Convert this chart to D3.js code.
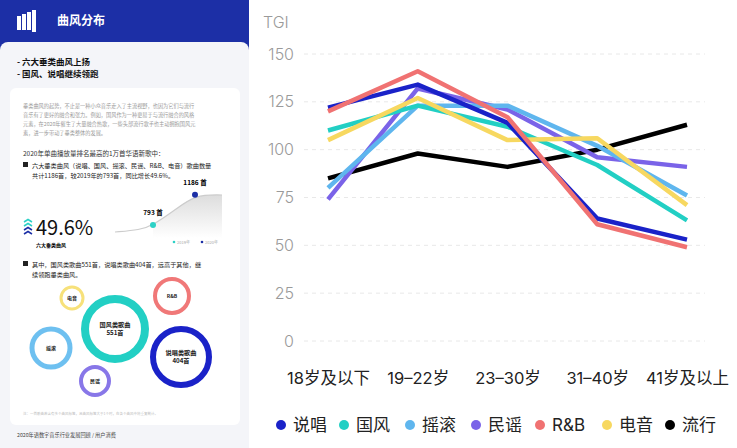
<!DOCTYPE html>
<html><head><meta charset="utf-8">
<script src="https://cdn.jsdelivr.net/npm/d3@7"></script>
<style>body{margin:0;background:#fff;font-family:"Noto Sans CJK SC","Noto Sans",sans-serif}</style>
</head><body>
<script>
const ages = ['18岁及以下', '19–22岁', '23–30岁', '31–40岁', '41岁及以上'];
const genres = ['说唱', '国风', '摇滚', '民谣', 'R&B', '电音', '流行'];
const colors = ['#1a22c8', '#22cfc4', '#5fb6ee', '#7a63e8', '#f07272', '#f7d860', '#000000'];
const rap = [122, 134, 114, 64, 53];
const guofeng = [110, 123, 112, 92, 63];
const rock = [80, 123, 123, 102, 76];
const folk = [74, 132, 121, 96, 91];
const rnb = [120, 141, 117, 61, 49];
const edm = [105, 127, 105, 106, 71];
const pop = [85, 98, 91, 100, 113];
const seriesValues = [rap, guofeng, rock, folk, rnb, edm, pop];
const yTicks = [0, 25, 50, 75, 100, 125, 150];

// left panel summary data
const songCounts = [793, 1186];
const bubbles = [
  {name: '电音', c: '#f7e17a', cx: 72, cy: 298, r: 11, w: 3},
  {name: 'R&B', c: '#f07878', cx: 172, cy: 296, r: 17, w: 4},
  {name: '国风类歌曲\n551首', c: '#22cfc4', cx: 115, cy: 329, r: 30, w: 8},
  {name: '摇滚', c: '#6ec0f0', cx: 51, cy: 348, r: 19, w: 5},
  {name: '说唱类歌曲\n404首', c: '#1a22c8', cx: 181, cy: 357, r: 28, w: 6},
  {name: '民谣', c: '#8877e8', cx: 95, cy: 381, r: 14, w: 4}
];

var svg = d3.select('body').append('svg').attr('width', 737).attr('height', 448);

// ---------- left panel ----------
var L = svg.append('g');
L.append('rect').attr('x', 0).attr('y', 0).attr('width', 249).attr('height', 448).attr('fill', '#1c2fa6');
L.append('rect').attr('x', 0).attr('y', 42).attr('width', 249).attr('height', 420).attr('rx', 8).attr('fill', '#f4f5f9');
L.append('rect').attr('x', 0).attr('y', 50).attr('width', 249).attr('height', 398).attr('fill', '#f4f5f9');
// logo
[[17, 16, 14], [22, 14, 16], [27, 12, 18], [32, 10, 22]].forEach(function(b){
  L.append('rect').attr('x', b[0]).attr('y', b[1]).attr('width', 4).attr('height', b[2]).attr('fill', '#fff');
});
L.append('text').attr('x', 57).attr('y', 25).attr('fill', '#fff').attr('font-size', 12).attr('font-weight', 700).text('曲风分布');
L.append('text').attr('x', 17).attr('y', 65).attr('font-size', 8.5).attr('font-weight', 700).attr('fill', '#111').text('- 六大垂类曲风上扬');
L.append('text').attr('x', 17).attr('y', 77).attr('font-size', 8.5).attr('font-weight', 700).attr('fill', '#111').text('- 国风、说唱继续领跑');
L.append('rect').attr('x', 10).attr('y', 88).attr('width', 230).attr('height', 337).attr('rx', 6).attr('fill', '#fff');
['垂类曲风的起势，不止是一种小众音乐走入了主流视野，也因为它们与流行',
 '音乐有了更好的融合和张力。例如，国风作为一种更易于与流行融合的风格',
 '元素，在2020年催生了大量融合热歌，一些头部流行歌手也主动拥抱国风元',
 '素，进一步带动了垂类整体的发展。'].forEach(function(t, i){
  L.append('text').attr('x', 23).attr('y', 108 + i * 9).attr('font-size', 5.2).attr('fill', '#999').text(t);
});
L.append('text').attr('x', 23).attr('y', 156).attr('font-size', 6.5).attr('fill', '#333').text('2020年单曲播放量排名最高的1万首华语新歌中：');
L.append('rect').attr('x', 23).attr('y', 162).attr('width', 5).attr('height', 5).attr('fill', '#222');
L.append('text').attr('x', 32).attr('y', 168).attr('font-size', 6.2).attr('fill', '#222').text('六大垂类曲风（说唱、国风、摇滚、民谣、R&B、电音）歌曲数量');
L.append('text').attr('x', 32).attr('y', 178).attr('font-size', 6.2).attr('fill', '#222').text('共计1186首，较2019年的793首，同比增长49.6%。');
// mini growth curve
var mx = d3.scalePoint().domain([0, 1]).range([153, 195]);
var my = d3.scaleLinear().domain([600, 1300]).range([240, 186]);
var area = d3.area().curve(d3.curveBasis).x(function(d){ return d[0]; }).y0(238).y1(function(d){ return d[1]; });
var curvePts = [[115, 232], [140, 230], [mx(0), my(songCounts[0])], [175, 210], [mx(1), my(songCounts[1])], [222, 195]];
var grad = svg.append('defs').append('linearGradient').attr('id', 'g1').attr('x1', 0).attr('y1', 0).attr('x2', 0).attr('y2', 1);
grad.append('stop').attr('offset', 0).attr('stop-color', '#ddd');
grad.append('stop').attr('offset', 1).attr('stop-color', '#fff');
L.append('path').attr('d', area(curvePts.slice(2))).attr('fill', 'url(#g1)');
L.append('path').attr('d', d3.line().curve(d3.curveBasis)(curvePts)).attr('fill', 'none').attr('stroke', '#ccc').attr('stroke-width', 1.2);
songCounts.forEach(function(v, i){
  L.append('circle').attr('cx', mx(i)).attr('cy', my(v)).attr('r', 3).attr('fill', i ? '#1c2fa6' : '#2dd1c6');
  L.append('text').attr('x', mx(i)).attr('y', my(v) - 10).attr('text-anchor', 'middle').attr('font-size', 6.5).attr('font-weight', 700).text(v + ' 首');
});
L.append('circle').attr('cx', 174).attr('cy', 242).attr('r', 1.3).attr('fill', '#2dd1c6');
L.append('text').attr('x', 177).attr('y', 244).attr('font-size', 4).attr('fill', '#aaa').text('2019年');
L.append('circle').attr('cx', 202).attr('cy', 242).attr('r', 1.3).attr('fill', '#1c2fa6');
L.append('text').attr('x', 205).attr('y', 244).attr('font-size', 4).attr('fill', '#aaa').text('2020年');
[0, 1, 2, 3].forEach(function(i){
  L.append('path').attr('d', 'M24,' + (222 + i * 4) + ' l4,-2.5 l4,2.5').attr('fill', 'none').attr('stroke', i < 2 ? '#2dd1c6' : '#1c2fa6').attr('stroke-width', 1.5);
});
L.append('text').attr('x', 36).attr('y', 235).attr('font-size', 20).attr('fill', '#111').text('49.6%');
L.append('text').attr('x', 36).attr('y', 247).attr('font-size', 5).attr('font-weight', 700).text('六大垂类曲风');
L.append('rect').attr('x', 23).attr('y', 261).attr('width', 5).attr('height', 5).attr('fill', '#222');
L.append('text').attr('x', 32).attr('y', 267).attr('font-size', 6.2).attr('fill', '#222').text('其中，国风类歌曲551首，说唱类歌曲404首，远高于其他，继');
L.append('text').attr('x', 32).attr('y', 277).attr('font-size', 6.2).attr('fill', '#222').text('续领跑垂类曲风。');
bubbles.forEach(function(b){
  L.append('circle').attr('cx', b.cx).attr('cy', b.cy).attr('r', b.r).attr('fill', '#fff').attr('stroke', b.c).attr('stroke-width', b.w);
  var lines = b.name.split('\n');
  lines.forEach(function(t, i){
    L.append('text').attr('x', b.cx).attr('y', b.cy + 2 + (i - (lines.length - 1) / 2) * 8).attr('text-anchor', 'middle')
      .attr('font-size', lines.length > 1 ? 6.2 : 5).attr('font-weight', 700).attr('fill', '#222').text(t);
  });
});
L.append('text').attr('x', 23).attr('y', 415).attr('font-size', 3.5).attr('fill', '#bbb').text('注：一首歌曲若含有多个曲风标签，且曲风标签大于1个时，在各个曲风中将重复统计。');
L.append('text').attr('x', 17).attr('y', 437).attr('font-size', 5.2).attr('fill', '#444').text('2020年语数字音乐行业发展回顾 / 用户消费');

// ---------- main chart ----------
var x = d3.scalePoint().domain(ages).range([328, 687]);
var y = d3.scaleLinear().domain([0, 150]).range([341, 54]);
var font = 'Inter, "Noto Sans CJK SC", sans-serif';

var grid = svg.append('g').attr('transform', 'translate(294,0)')
  .call(d3.axisLeft(y).tickValues(yTicks).tickSize(0).tickPadding(0));
grid.select('.domain').remove();
grid.selectAll('text').attr('font-size', 16).attr('fill', '#9a9a9a').attr('font-family', font).attr('font-weight', 300);
yTicks.forEach(function(t){
  svg.append('line').attr('x1', 304).attr('x2', 705).attr('y1', y(t)).attr('y2', y(t))
    .attr('stroke', '#e8e8e8').attr('stroke-width', 1).attr('stroke-dasharray', '4,4');
});
svg.append('text').attr('x', 263).attr('y', 28).attr('font-size', 16).attr('fill', '#9a9a9a').attr('font-family', font).attr('font-weight', 300).text('TGI');

var xa = svg.append('g').attr('transform', 'translate(0,378)').call(d3.axisBottom(x).tickSize(0).tickPadding(0));
xa.select('.domain').remove();
xa.selectAll('text').attr('font-size', 16.5).attr('fill', '#222').attr('font-family', font).attr('dy', '0.35em');

var line = d3.line().x(function(d, i){ return x(ages[i]); }).y(function(d){ return y(d); });
[6, 3, 2, 1, 5, 0, 4].forEach(function(k){
  svg.append('path').attr('d', line(seriesValues[k])).attr('fill', 'none').attr('stroke', colors[k])
    .attr('stroke-width', 4.5).attr('stroke-linejoin', 'round').attr('stroke-linecap', 'butt');
});

var legX = [281, 344, 410, 476, 540, 607, 670];
genres.forEach(function(g, i){
  svg.append('circle').attr('cx', legX[i]).attr('cy', 425).attr('r', 5).attr('fill', colors[i]);
  svg.append('text').attr('x', legX[i] + 12).attr('y', 431).attr('font-size', 17).attr('fill', '#222').attr('font-family', font).text(g);
});
</script>
</body></html>
